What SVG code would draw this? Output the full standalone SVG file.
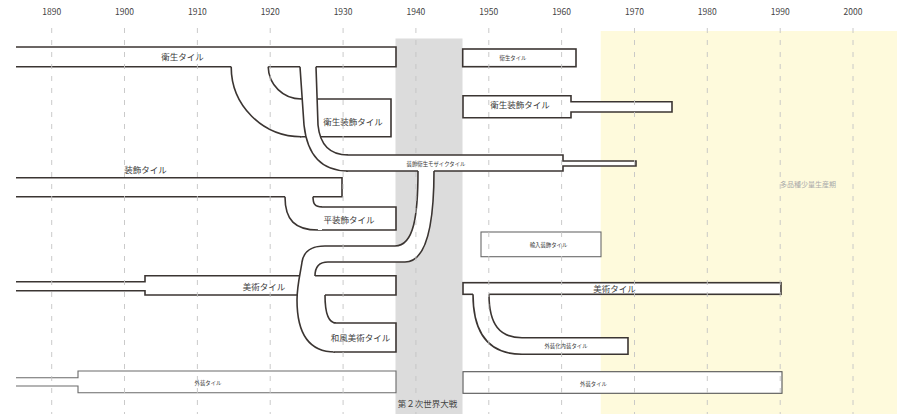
<svg xmlns="http://www.w3.org/2000/svg" width="897" height="414" viewBox="0 0 897 414">
<style>
text{font-family:"Noto Sans CJK JP","Noto Sans",sans-serif;fill:#3a3a3a;text-anchor:middle}
.yr{font-size:8.5px;fill:#444}
.lg{font-size:8.5px}
.sm{font-size:5.4px}
.bar{fill:#fff;stroke:#3b3532;stroke-width:1.6;stroke-linejoin:miter}
.lt{fill:#fff;stroke:#6a6a6a;stroke-width:1.1}
.ln{fill:none;stroke:#3b3532;stroke-width:1.6}
.cv{fill:#fff;stroke:none}
.grid{stroke:#c4c4c4;stroke-width:0.9;stroke-dasharray:5 7}
</style>
<rect width="897" height="414" fill="#fff"/>
<rect x="395.5" y="38.5" width="67" height="376" fill="#dcdcdc"/>
<rect x="600.7" y="31" width="297" height="383" fill="#fefadc"/>
<g id="axis">
<text class="yr" x="51.7" y="15">1890</text>
<text class="yr" x="124.5" y="15">1900</text>
<text class="yr" x="197.4" y="15">1910</text>
<text class="yr" x="270.2" y="15">1920</text>
<text class="yr" x="343.1" y="15">1930</text>
<text class="yr" x="415.9" y="15">1940</text>
<text class="yr" x="488.8" y="15">1950</text>
<text class="yr" x="561.6" y="15">1960</text>
<text class="yr" x="634.5" y="15">1970</text>
<text class="yr" x="707.3" y="15">1980</text>
<text class="yr" x="780.2" y="15">1990</text>
<text class="yr" x="853" y="15">2000</text>
</g>
<text x="427.5" y="406.5" class="lg" style="fill:#444">第２次世界大戦</text>
<text x="808" y="186.5" style="font-size:7px;fill:#aaa">多品種少量生産期</text>

<g id="n-eisei-l">
<path class="bar" d="M16,47 H396 V66.7 H16"/>
<text class="lg" x="182.5" y="60">衛生タイル</text>
</g>
<g id="n-eiseisoshoku-l">
<path class="bar" d="M300,99 H391 V136.7 H300"/>
<text class="lg" x="353" y="124.5">衛生装飾タイル</text>
</g>
<g id="n-mosaic">
<path class="bar" d="M346,155 H563 V161 H636 V166 H563 V171 H346"/>
<text class="sm" x="436" y="166">装飾衛生モザイクタイル</text>
</g>
<g id="n-soshoku">
<path class="bar" d="M16,177.7 H342 V196.7 H16"/>
<text class="lg" x="145.5" y="172.5">装飾タイル</text>
</g>
<g id="n-hirasoshoku">
<path class="bar" d="M320,207 H396 V230 H318"/>
<text class="lg" x="349" y="223">平装飾タイル</text>
</g>
<g id="n-bijutsu-l">
<path class="bar" d="M16,281.7 H145 V275.7 H396 V295 H145 V290.7 H16"/>
<text class="lg" x="264" y="289.7">美術タイル</text>
</g>
<g id="n-gaiso-l">
<path class="lt" d="M16,377.7 H78 V371 H396 V392.7 H78 V386 H16"/>
<text class="sm" x="208" y="384.8">外装タイル</text>
</g>

<g id="n-eisei-r">
<rect class="bar" x="462.7" y="49" width="113.3" height="17.7"/>
<text class="sm" x="513" y="60.3">衛生タイル</text>
</g>
<g id="n-eiseisoshoku-r">
<path class="bar" d="M463,95.7 H571 V101.7 H672 V112 H571 V117.7 H463 Z"/>
<text class="lg" x="520" y="108.3">衛生装飾タイル</text>
</g>
<g id="n-yunyu">
<rect class="lt" x="481" y="232" width="120" height="24.7"/>
<text class="sm" x="548.5" y="247">輸入装飾タイル</text>
</g>
<g id="n-bijutsu-r">
<rect class="bar" x="463" y="282.7" width="318" height="11.6"/>
<text class="lg" x="614.5" y="292">美術タイル</text>
</g>
<g id="n-gaisoka">
<path class="bar" d="M520,337.7 H628 V354.3 H520"/>
<text class="sm" x="566" y="348">外装化内装タイル</text>
</g>
<g id="n-gaiso-r">
<rect class="lt" x="463" y="371.7" width="319" height="21.6" style="stroke:#555"/>
<text class="sm" x="593.5" y="386">外装タイル</text>
</g>

<g id="connectors">
<!-- 衛生タイル -> 衛生装飾タイル -->
<path class="cv" d="M231.2,64 V66.7 A70,70 0 0 0 301.2,136.7 L301.2,99 A33,33 0 0 1 268.2,66 V64 Z"/>
<path class="ln" d="M231.2,66.7 A70,70 0 0 0 301.2,136.7"/>
<path class="ln" d="M301.2,99 A33,33 0 0 1 268.2,66.7"/>
<!-- 衛生タイル -> 装飾衛生モザイクタイル -->
<path class="cv" d="M300,64 H316 V66.7 L318,125 Q321,155 348,155 V171 Q309,171 304,125 L300,66.7 Z"/>
<path class="ln" d="M300,66.7 L304,125 Q309,171 348,171"/>
<path class="ln" d="M316,66.7 L318,125 Q321,155 348,155"/>
<!-- 装飾タイル -> 平装飾タイル -->
<path class="cv" d="M285,194 H313 V196.7 C313,204 315,207 322,207 V230 H318 C295,230 285,220 285,196.7 Z"/>
<path class="ln" d="M285,196.7 C285,220 295,230 318,230"/>
<path class="ln" d="M313,196.7 C313,204 315,207 322,207"/>
<!-- モザイク -> 美術タイル -> 和風美術タイル -->
<path class="cv" d="M418,168 H434 V171 C434,220 428,262 405,262 H328 C318,262 315,268 315,278 L316,293 H325 C325,312 328,323 334,323 V352 H334 C310,352 297,335 297,300 C297,285 301,270 302,262 C304,250 312,246 325,246 H395 C414,246 418,215 418,171 Z"/>
<path class="ln" d="M418,171 C418,215 414,246 395,246 H325 C312,246 304,250 302,262 C301,270 297,285 297,300 C297,335 310,352 335,352"/>
<path class="ln" d="M434,171 C434,220 428,262 405,262 H328 C318,262 315,268 315,276"/>
<path class="ln" d="M325,295 C325,312 328,323 336,323"/>
<!-- 美術タイル -> 外装化内装タイル -->
<path class="cv" d="M473,292 H489 V294.3 C489,325 500,337.7 522,337.7 V354.3 C490,354.3 473,335 473,294.3 Z"/>
<path class="ln" d="M473,294.3 C473,335 490,354.3 522,354.3"/>
<path class="ln" d="M489,294.3 C489,325 500,337.7 522,337.7"/>
</g>

<g id="n-wafu">
<path class="bar" d="M333.5,323 H396 V352 H333.5"/>
<text class="lg" x="360.5" y="341">和風美術タイル</text>
</g>

<g id="grid">
<line class="grid" x1="51.7" y1="28" x2="51.7" y2="414"/>
<line class="grid" x1="124.5" y1="28" x2="124.5" y2="414"/>
<line class="grid" x1="197.4" y1="28" x2="197.4" y2="414"/>
<line class="grid" x1="270.2" y1="28" x2="270.2" y2="414"/>
<line class="grid" x1="343.1" y1="28" x2="343.1" y2="414"/>
<line class="grid" x1="415.9" y1="28" x2="415.9" y2="414"/>
<line class="grid" x1="488.8" y1="28" x2="488.8" y2="414"/>
<line class="grid" x1="561.6" y1="28" x2="561.6" y2="414"/>
<line class="grid" x1="634.5" y1="28" x2="634.5" y2="414"/>
<line class="grid" x1="707.3" y1="28" x2="707.3" y2="414"/>
<line class="grid" x1="780.2" y1="28" x2="780.2" y2="414"/>
<line class="grid" x1="853" y1="28" x2="853" y2="414"/>
</g>
</svg>
